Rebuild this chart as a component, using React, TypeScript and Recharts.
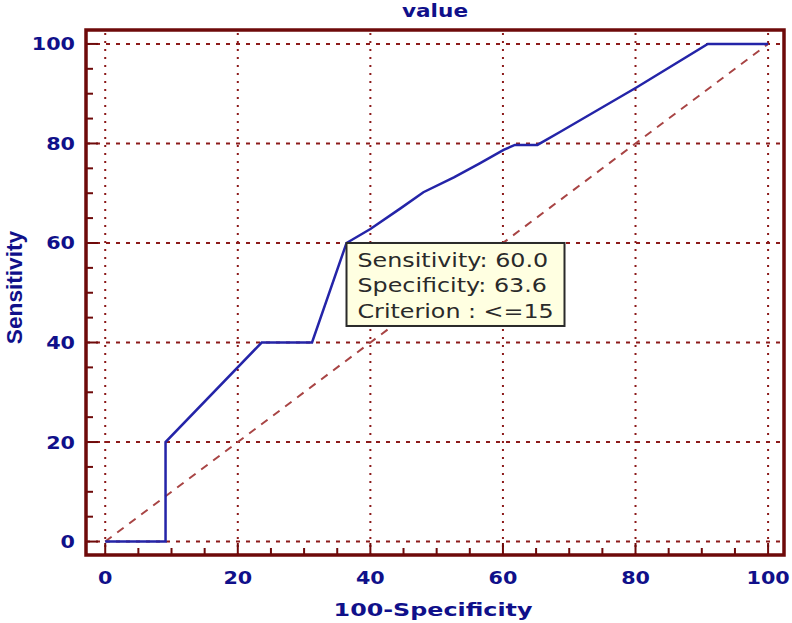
import { LineChart, Line, XAxis, YAxis, ReferenceLine, ReferenceArea, ReferenceDot, Label } from 'recharts'

// ROC curve: 100-Specificity (x) vs Sensitivity (y)
const rocFpr = [0, 9.1, 9.1, 23.6, 31.2, 36.4, 40, 44.6, 48, 52.6, 56.5, 60.1, 61.8, 65.2, 68.6, 80.2, 90.9, 100]
const rocTpr = [0, 0, 20, 40, 40, 60, 62.8, 67, 70.2, 73.2, 76, 78.7, 79.7, 79.7, 82.3, 91.3, 100, 100]

const diagonalX = [0, 100]
const diagonalY = [0, 100]

const majorTicks = [0, 20, 40, 60, 80, 100]
const minorTicks = [0, 5, 10, 15, 20, 25, 30, 35, 40, 45, 50, 55, 60, 65, 70, 75, 80, 85, 90, 95, 100]

const xDomain = [-2.9, 102.4]
const yDomain = [-2.7, 102.8]

const tooltipPoint = { x: 36.4, y: 60 }
const tooltipLines = ['Sensitivity: 60.0', 'Specificity: 63.6', 'Criterion : <=15']

const chartTitle = 'value'
const xTitle = '100-Specificity'
const yTitle = 'Sensitivity'

const MAROON = '#6e0a0a'
const GRID = '#8c1a1a'
const NAVY = '#10108a'
const BLUE = '#2424a8'

const rocData = rocFpr.map((x, i) => ({ x, y: rocTpr[i] }))
const diagData = diagonalX.map((x, i) => ({ x, y: diagonalY[i] }))

// text stretched sideways, the source picture is wider than it is tall
function Stretch({ x, y, sx = 1, children, ...rest }: any) {
  return (
    <g transform={`translate(${x},${y}) scale(${sx},1)`}>
      <text x={0} y={0} {...rest}>{children}</text>
    </g>
  )
}

function XTick({ x, y, payload }: any) {
  const v = payload.value
  const major = majorTicks.includes(v)
  return (
    <g>
      <line x1={x} y1={y} x2={x} y2={y - (major ? 12 : 7)} stroke={MAROON} strokeWidth={2} />
      {major && (
        <Stretch x={x} y={y + 29} sx={1.15} textAnchor="middle" fontFamily="DejaVu Sans" fontWeight="bold" fontSize={18} fill={NAVY}>
          {v}
        </Stretch>
      )}
    </g>
  )
}

function YTick({ x, y, payload }: any) {
  const v = payload.value
  const major = majorTicks.includes(v)
  return (
    <g>
      <line x1={x} y1={y} x2={x + (major ? 12 : 7)} y2={y} stroke={MAROON} strokeWidth={2} />
      {major && (
        <Stretch x={x - 11} y={y + 6.5} sx={1.15} textAnchor="end" fontFamily="DejaVu Sans" fontWeight="bold" fontSize={18} fill={NAVY}>
          {v}
        </Stretch>
      )}
    </g>
  )
}

function TooltipBox({ cx, cy }: any) {
  return (
    <g>
      <rect x={cx} y={cy} width={218} height={83} fill="#ffffe1" stroke="#2a2a2a" strokeWidth={2} />
      {tooltipLines.map((t, i) => (
        <Stretch key={t} x={cx + 11} y={cy + 24 + i * 25.5} sx={1.19} fontFamily="DejaVu Sans" fontSize={20} fill="#2a2a2a">
          {t}
        </Stretch>
      ))}
    </g>
  )
}

export default function App() {
  return (
    <div style={{ position: 'absolute', left: 0, top: 0, width: 792, height: 623, background: '#fff' }}>
      <LineChart width={792} height={623} margin={{ top: 30, right: 8, bottom: 0, left: 0 }}>
        <XAxis
          type="number"
          dataKey="x"
          domain={xDomain}
          allowDataOverflow
          ticks={minorTicks}
          interval={0}
          height={68}
          axisLine={false}
          tickLine={false}
          tickSize={0}
          tickMargin={0}
          tick={(p: any) => <XTick {...p} />}
        >
          <Label
            content={({ viewBox }: any) => (
              <Stretch x={viewBox.x + viewBox.width / 2 - 2} y={viewBox.y + 61} sx={1.4} textAnchor="middle" fontFamily="DejaVu Sans" fontWeight="bold" fontSize={17} fill={NAVY}>
                {xTitle}
              </Stretch>
            )}
          />
        </XAxis>
        <YAxis
          type="number"
          dataKey="y"
          domain={yDomain}
          allowDataOverflow
          ticks={minorTicks}
          interval={0}
          width={86}
          axisLine={false}
          tickLine={false}
          tickSize={0}
          tickMargin={0}
          tick={(p: any) => <YTick {...p} />}
        >
          <Label
            content={({ viewBox }: any) => (
              <g transform={`translate(${viewBox.x + 22},${viewBox.y + viewBox.height / 2 - 5}) rotate(-90)`}>
                <text x={0} y={0} textAnchor="middle" fontFamily="Liberation Sans" fontWeight="bold" fontSize={22} fill={NAVY} transform="scale(1.03,1)">
                  {yTitle}
                </text>
              </g>
            )}
          />
        </YAxis>

        {majorTicks.map(v => (
          <ReferenceLine key={`h${v}`} y={v} stroke={GRID} strokeWidth={2} strokeDasharray="4 6" />
        ))}
        {majorTicks.map(v => (
          <ReferenceLine key={`v${v}`} x={v} stroke={GRID} strokeWidth={2} strokeDasharray="2 6" />
        ))}

        <ReferenceArea
          x1={xDomain[0]}
          x2={xDomain[1]}
          y1={yDomain[0]}
          y2={yDomain[1]}
          fill="none"
          fillOpacity={0}
          stroke={MAROON}
          strokeWidth={3.5}
          ifOverflow="visible"
        >
          <Label
            content={({ viewBox }: any) => (
              <Stretch x={viewBox.x + viewBox.width / 2} y={viewBox.y - 13} sx={1.2} textAnchor="middle" fontFamily="DejaVu Sans" fontWeight="bold" fontSize={18} fill={NAVY}>
                {chartTitle}
              </Stretch>
            )}
          />
        </ReferenceArea>

        <Line
          data={diagData}
          dataKey="y"
          type="linear"
          stroke="#a84444"
          strokeWidth={2}
          strokeDasharray="8 7"
          dot={false}
          activeDot={false}
          isAnimationActive={false}
        />
        <Line
          data={rocData}
          dataKey="y"
          type="linear"
          stroke={BLUE}
          strokeWidth={2.5}
          dot={false}
          activeDot={false}
          isAnimationActive={false}
        />

        <ReferenceDot
          x={tooltipPoint.x}
          y={tooltipPoint.y}
          r={0}
          ifOverflow="visible"
          shape={(p: any) => <TooltipBox cx={p.cx} cy={p.cy} />}
        />
      </LineChart>
    </div>
  )
}
